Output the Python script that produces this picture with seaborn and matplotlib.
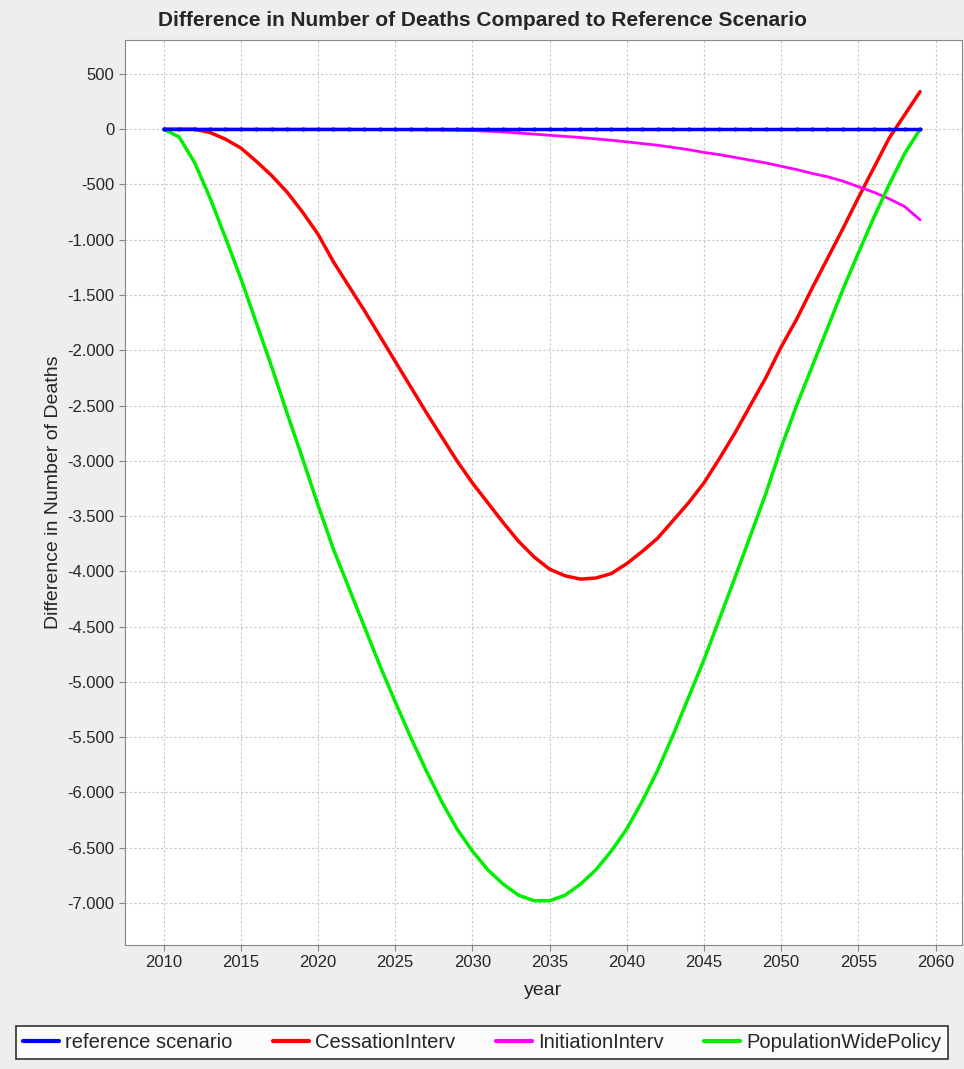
import numpy as np
import pandas as pd
import matplotlib
matplotlib.use('Agg')
import matplotlib.pyplot as plt
import seaborn as sns
from matplotlib.ticker import FuncFormatter, MultipleLocator

years = list(range(2010, 2060))
reference = [0] * 50
cessation = [0, 0, 0, -30, -90, -170, -290, -420, -570, -750,
             -950, -1200, -1420, -1640, -1870, -2100, -2330, -2560, -2780, -3000,
             -3200, -3380, -3560, -3730, -3870, -3980, -4040, -4070, -4060, -4020,
             -3930, -3820, -3700, -3540, -3380, -3200, -2980, -2750, -2500, -2250,
             -1970, -1720, -1440, -1170, -900, -620, -350, -80, 130, 340]
initiation = [0, 0, 0, 0, 0, 0, 0, 0, 0, 0,
              0, 0, 0, -2, -3, -4, -5, -6, -8, -10,
              -13, -18, -25, -35, -45, -55, -65, -75, -88, -100,
              -115, -130, -145, -165, -185, -210, -230, -255, -280, -305,
              -335, -365, -400, -430, -470, -520, -570, -630, -700, -820]
population = [0, -70, -300, -620, -980, -1350, -1750, -2150, -2570, -2980,
              -3400, -3800, -4150, -4500, -4850, -5180, -5500, -5800, -6080, -6330,
              -6530, -6700, -6830, -6930, -6980, -6980, -6930, -6830, -6700, -6530,
              -6330, -6080, -5800, -5480, -5140, -4800, -4430, -4060, -3680, -3300,
              -2880, -2500, -2150, -1800, -1450, -1120, -800, -500, -220, 0]

series_names = ["reference scenario", "CessationInterv", "InitiationInterv", "PopulationWidePolicy"]
colors = ["#0000ff", "#ff0000", "#ff00ff", "#00ee00"]

df = pd.DataFrame({"year": years, series_names[0]: reference, series_names[1]: cessation,
                   series_names[2]: initiation, series_names[3]: population})

sns.set_style("white")
plt.rcParams['font.family'] = ['Liberation Sans', 'DejaVu Sans']

fig = plt.figure(figsize=(9.64, 10.69), dpi=100, facecolor="#eeeeee")
ax = fig.add_axes([0.1297, 0.116, 0.868, 0.8466])
ax.set_facecolor("white")

# draw the others first so the reference line sits on top
widths = {series_names[1]: 2.5, series_names[2]: 2.0, series_names[3]: 2.5}
for name, col in zip(series_names[1:], colors[1:]):
    sns.lineplot(data=df, x="year", y=name, color=col, linewidth=widths[name], ax=ax)
sns.lineplot(data=df, x="year", y=series_names[0], color=colors[0], linewidth=2.5,
             marker="o", markersize=3, markeredgewidth=0, ax=ax)

ax.set_xlim(2007.5, 2061.7)
ax.set_ylim(-7380, 807)
ax.xaxis.set_major_locator(MultipleLocator(5))
ax.yaxis.set_major_locator(MultipleLocator(500))
ax.yaxis.set_major_formatter(FuncFormatter(lambda v, p: f"{int(v):,}".replace(",", ".")))
ax.grid(True, color="#c8c8c8", linestyle=(0, (2, 2)), linewidth=0.8)
ax.tick_params(labelsize=12, length=4, color="#888888", left=True, bottom=True)
for s in ax.spines.values():
    s.set_color("#888888")
ax.set_xlabel("year", fontsize=14, labelpad=8)
ax.set_ylabel("Difference in Number of Deaths", fontsize=14)
fig.suptitle("Difference in Number of Deaths Compared to Reference Scenario",
             fontsize=15, fontweight="bold", y=0.99)

handles = [plt.Line2D([], [], color=c, linewidth=3) for c in colors]
leg = fig.legend(handles, series_names, loc="lower center", bbox_to_anchor=(0.5, 0.0),
                 ncol=4, fontsize=14.5, frameon=True, fancybox=False, edgecolor="black",
                 handlelength=1.8, columnspacing=2.0, handletextpad=0.3,
                 borderpad=0.35)
leg.get_frame().set_linewidth(1.2)

fig.savefig("out.png", dpi=100, facecolor=fig.get_facecolor())
